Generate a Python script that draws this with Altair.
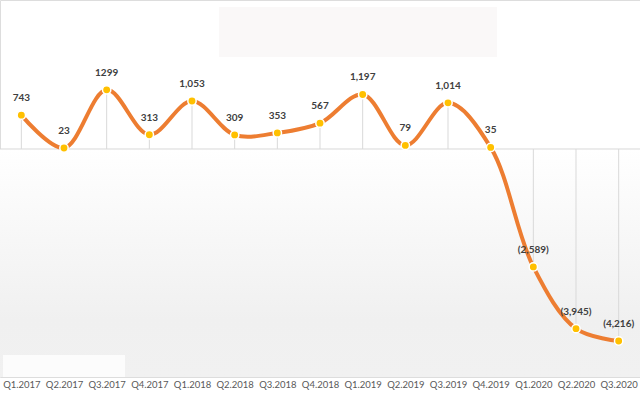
import altair as alt
import pandas as pd

quarters = ["Q1.2017", "Q2.2017", "Q3.2017", "Q4.2017", "Q1.2018", "Q2.2018",
            "Q3.2018", "Q4.2018", "Q1.2019", "Q2.2019", "Q3.2019", "Q4.2019",
            "Q1.2020", "Q2.2020", "Q3.2020"]
values = [743, 23, 1299, 313, 1053, 309, 353, 567, 1197, 79, 1014, 35, -2589, -3945, -4216]
labels = ["743", "23", "1299", "313", "1,053", "309", "353", "567", "1,197", "79",
          "1,014", "35", "(2,589)", "(3,945)", "(4,216)"]

df = pd.DataFrame({"q": quarters, "v": values, "lab": labels})

W, H = 640, 377
DOM = [-5007, 3272]
xs = alt.X("q:N", sort=quarters, scale=alt.Scale(type="point", padding=0.5),
           axis=alt.Axis(title=None, labelAngle=0, domain=False, ticks=False, grid=False,
                         labelFont="Lato", labelFontSize=9.5,
                         labelColor="#595959", labelPadding=2))
ys = alt.Y("v:Q", scale=alt.Scale(domain=DOM, nice=False, zero=False), axis=None)

base = alt.Chart(df)
one = pd.DataFrame({"a": [0]})

bg = alt.Chart(one).mark_rect(
    color=alt.Gradient(gradient="linear",
                       stops=[alt.GradientStop(color="#ffffff", offset=0),
                              alt.GradientStop(color="#f0f0f0", offset=0.75),
                              alt.GradientStop(color="#f1f1f1", offset=1)],
                       x1=0, x2=0, y1=0, y2=1)
).encode(x=alt.value(0), x2=alt.value(W),
         y=alt.Y("a:Q", scale=alt.Scale(domain=DOM, nice=False, zero=False), axis=None),
         y2=alt.value(H))

box1 = alt.Chart(one).mark_rect(color="#faf8f8").encode(
    x=alt.value(219), x2=alt.value(497), y=alt.value(7), y2=alt.value(57))
box2 = alt.Chart(one).mark_rect(color="#fcfcfc").encode(
    x=alt.value(3), x2=alt.value(125), y=alt.value(355), y2=alt.value(377))

zero = alt.Chart(one).mark_rule(color="#d9d9d9", strokeWidth=1).encode(
    x=alt.value(0), x2=alt.value(W),
    y=alt.Y("a:Q", scale=alt.Scale(domain=DOM, nice=False, zero=False), axis=None))

drops = base.mark_rule(color="#d9d9d9", strokeWidth=1).encode(x=xs, y=ys, y2=alt.datum(0))

line = base.mark_line(color="#ED7D31", strokeWidth=4, interpolate="catmull-rom").encode(x=xs, y=ys)
pts = base.mark_point(filled=True, color="#FFC000", size=70, opacity=1,
                      stroke="#ffffff", strokeWidth=1.5).encode(x=xs, y=ys)
txt = base.mark_text(dy=-17, font="Lato", fontSize=10, fontWeight="bold",
                     color="#404040").encode(x=xs, y=ys, text="lab:N")

chart = alt.layer(bg, box1, box2, zero, drops, line, pts, txt).properties(
    width=W, height=H,
    padding={"left": 0, "top": 0, "right": 0, "bottom": 21},
    autosize=alt.AutoSizeParams(type="none")
).configure_view(stroke=None).configure(background="#ffffff")

chart.save("out.html", embed_options={"renderer": "svg", "actions": False})
